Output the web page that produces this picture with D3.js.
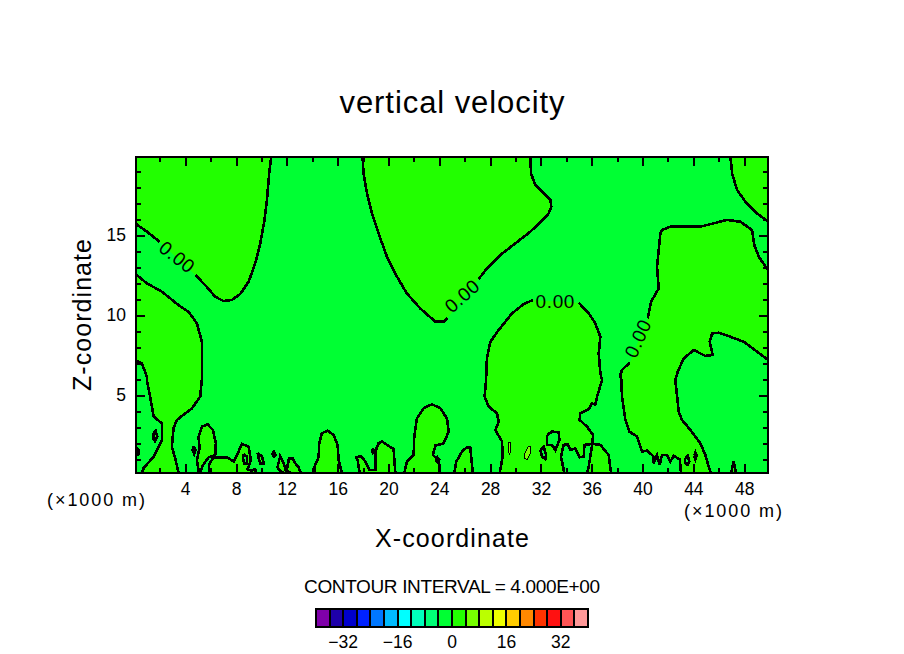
<!DOCTYPE html>
<html>
<head>
<meta charset="utf-8">
<style>
  html, body { margin: 0; padding: 0; background: #fff; }
  svg { display: block; }
  text { font-family: "Liberation Sans", sans-serif; fill: #000; }
</style>
<script src="https://cdnjs.cloudflare.com/ajax/libs/d3/7.8.5/d3.min.js"></script>
</head>
<body>
<svg id="canvas" width="904" height="654"></svg>
<script>
// domain of the cell centres, x and z in km
var xDomain = [0.125, 49.875];
var zDomain = [0.125, 19.875];

var xMajor = [4, 8, 12, 16, 20, 24, 28, 32, 36, 40, 44, 48];
var xMinor = [2, 6, 10, 14, 18, 22, 26, 30, 34, 38, 42, 46];
var zMajor = [5, 10, 15];
var zMinor = [1, 2, 3, 4, 6, 7, 8, 9, 11, 12, 13, 14, 16, 17, 18, 19];

// legend
var levelColors = ['#7f00aa', '#1e00aa', '#0000cc', '#0022ff', '#0077ff', '#00bbff', '#00ffff',
  '#00ffbb', '#00ff77', '#00ff33', '#22ff00', '#77ff00', '#bbff00', '#eeff00', '#ffcc00',
  '#ff8800', '#ff3300', '#ff1111', '#ff5555', '#ff9999'];
var levelEdges = [-40, -36, -32, -28, -24, -20, -16, -12, -8, -4, 0, 4, 8, 12, 16, 20, 24, 28, 32, 36, 40];
var levelTicks = [-32, -16, 0, 16, 32];

// zero contours, [x, z]. null is a break in the line for a label
var topLeft = [[0.125, 15.69], [0.98, 15.21], [1.98, 14.58], null, [4.79, 12.5], [5.57, 11.87], [6.36, 11.14],
  [7.02, 10.87], [7.67, 10.94], [8.33, 11.31], [8.99, 12.08], [9.51, 13.23], [9.91, 14.48], [10.22, 15.83],
  [10.43, 17.19], [10.61, 18.85], [10.77, 19.875], null, [0.125, 19.875]];
var topMiddle = [[17.96, 19.875], [18.04, 18.85], [18.31, 17.6], [18.7, 16.35], [19.22, 15.1], [19.88, 13.64],
  [20.67, 12.39], [21.45, 11.35], [22.5, 10.41], [23.69, 9.58], [24.34, 9.58], [24.66, 9.83], null,
  [27.1, 12.25], [27.75, 12.91], [28.8, 13.75], [29.99, 14.48], [31.17, 15.21], [32.09, 15.89], [32.61, 16.35],
  [32.82, 16.77], [32.74, 17.19], [32.22, 17.6], [31.56, 18.12], [31.22, 18.85], [31.17, 19.875]];
var topRight = [[46.92, 19.875], [47.05, 18.85], [47.44, 17.81], [48.1, 17.08], [49.02, 16.35], [49.875, 15.83],
  null, [49.875, 19.875]];
var leftMiddle = [[0.125, 12.54], [0.98, 11.98], [2.16, 11.46], [3.47, 10.62], [4.26, 10.2], [4.92, 9.48],
  [5.31, 8.33], [5.31, 5.94], [5.18, 4.9], [4.53, 4.17], [3.34, 3.44], [3.08, 2.92], [2.95, 1.77], [3.21, 1.04],
  [3.48, 0.125], null, [0.59, 0.125], [0.72, 0.42], [1.51, 1.15], [2.16, 2.19], [2.16, 3.23], [1.51, 3.65],
  [1.24, 4.9], [0.98, 5.94], [0.98, 6.14], [0.59, 6.98], [0.125, 7.14]];
var centre = [[28.75, 0.125], [28.99, 1.15], [28.94, 2.09], [28.41, 2.81], [28.67, 3.33], [28.54, 3.86], [27.89, 4.27],
  [27.57, 4.9], [27.68, 5.94], [27.75, 7.29], [28.02, 8.33], [28.67, 9.06], [29.72, 10.1], [30.64, 10.68],
  [31.38, 10.94], null, [34.97, 10.77], [35.76, 10.1], [36.28, 9.48], [36.68, 8.64], [36.55, 7.6], [36.68, 6.35],
  [36.81, 5.94], [36.42, 4.9], [36.28, 4.38], [36.02, 4.48], [35.76, 4.11], [35.1, 3.86], [35.05, 3.44],
  [35.63, 3.02], [36.1, 2.5], [36.05, 1.95], [35.42, 1.88], [35.37, 1.15], [35.05, 1.11], [34.71, 1.67],
  [34.32, 1.56], [34.1, 1.94], [33.79, 1.88], [33.58, 1.15], [33.84, 0.125]];
var centreFoot = [[36.05, 1.95], [36.68, 1.88], [37.33, 1.25], [37.52, 0.125], null, [35.63, 0.125], [35.76, 0.52]];
var right = [[43.03, 0.125], [42.93, 0.98], [42.45, 1.19], [42.19, 0.84], [41.93, 1.25], [41.53, 1.25], [41.35, 0.63],
  [41.14, 1.25], [40.88, 0.73], [40.88, 1.15], [40.35, 1.52], [39.96, 1.46], [39.57, 2.4], [38.96, 2.71],
  [38.65, 3.44], [38.38, 4.9], [38.33, 5.94], [38.25, 6.25], [38.38, 6.56], [38.99, 7.02], null, [40.41, 9.79],
  [40.67, 10.83], [41.27, 11.66], [41.14, 13.02], [41.4, 15.1], [41.53, 15.31], [42.19, 15.52], [44.55, 15.52],
  [46.65, 15.94], [47.7, 15.83], [48.62, 15.31], [48.8, 14.37], [49.15, 13.64], [49.875, 12.81], null,
  [49.875, 7.19], [49.02, 7.71], [47.96, 8.33], [46.92, 8.64], [46.0, 8.89], [45.47, 8.85], [45.29, 8.33],
  [45.52, 7.5], [44.95, 7.44], [44.03, 7.81], [43.24, 7.29], [42.77, 6.46], [42.58, 5.94], [42.85, 3.96],
  [43.11, 3.44], [43.77, 2.81], [44.55, 1.98], [44.95, 1.25], [45.21, 0.52], [45.39, 0.125]];

// blobs on the ground
var blobE = [[5.08, 0.125], [4.92, 0.94], [5.13, 1.67], [5.05, 2.4], [5.31, 3.02], [5.76, 3.17], [6.18, 2.81],
  [6.41, 1.98], [6.36, 1.23], [5.84, 1.11], [5.36, 0.57], [5.18, 0.125]];
var blobF = [[5.92, 0.125], [5.86, 0.63], [6.23, 1.11], [7.28, 1.11], [7.81, 0.84], [8.2, 1.46], [8.46, 1.94],
  [8.99, 1.77], [9.17, 0.94], [8.91, 0.36], [9.17, 0.27], [9.51, 0.36], [9.59, 0.125]];
var blobG = [[11.24, 0.42], [11.48, 1.19], [11.69, 0.84], [11.87, 0.42], [11.98, 0.125], [11.74, 0.125], [11.43, 0.31]];
var blobH = [[12.08, 0.63], [12.16, 1.04], [12.48, 1.04], [12.66, 0.73], [12.92, 0.48], [13.11, 0.125], [12.28, 0.125], [12.0, 0.3]];
var blobI = [[14.24, 0.125], [14.18, 0.52], [14.5, 1.11], [14.55, 1.98], [14.76, 2.61], [15.21, 2.77], [15.68, 2.5],
  [16.0, 1.88], [16.07, 0.94], [16.34, 0.125]];
var blobJ = [[17.73, 0.125], [17.57, 0.94], [17.47, 1.11], [17.83, 1.19], [18.17, 0.84], [18.51, 0.31], [18.96, 0.31],
  [18.96, 1.46], [19.22, 1.98], [19.49, 2.09], [19.88, 1.88], [20.4, 1.63], [20.54, 0.125]];
var blobK = [[21.25, 0.125], [21.45, 0.84], [21.98, 1.25], [22.03, 2.4], [22.24, 3.54], [22.77, 4.17], [23.42, 4.42],
  [24.08, 4.17], [24.6, 3.54], [24.74, 2.71], [24.34, 1.98], [23.69, 1.84], [23.5, 1.25], [23.95, 0.94], [24.03, 0.125]];
var blobL = [[25.18, 0.125], [25.34, 0.84], [25.79, 1.46], [26.13, 1.71], [26.44, 1.71], [26.57, 0.67], [26.63, 0.125]];
var blobO = [[46.97, 0.125], [47.18, 0.84], [47.36, 0.125]];

// small closed loops, positive inside
var spots = [
  [[1.5, 2.6], [1.68, 2.75], [1.8, 2.4], [1.62, 2.1], [1.48, 2.3]],
  [[0.125, 1.7], [0.3, 1.6], [0.32, 1.3], [0.125, 1.2]],
  [[4.66, 1.81], [4.81, 1.56], [4.71, 1.31], [4.58, 1.56]],
  [[9.7, 1.36], [10.04, 1.19], [10.17, 0.73], [9.91, 0.73], [9.77, 1.04]],
  [[10.85, 1.31], [10.98, 1.46], [11.11, 1.27], [10.98, 1.15]],
  [[18.68, 1.52], [18.78, 1.62], [18.9, 1.5], [18.78, 1.38]],
  [[23.7, 0.98], [23.85, 1.1], [24.0, 0.95], [23.85, 0.82]],
  [[44.06, 1.21], [44.16, 1.42], [44.27, 1.21], [44.16, 0.98]]
];
// small closed loops, negative inside
var holes = [
  [[8.6, 1.31], [8.86, 1.15], [8.86, 0.73], [8.65, 0.73], [8.54, 1.04]],
  [[31.95, 1.57], [32.22, 1.77], [32.4, 1.25], [32.35, 1.0], [32.09, 1.15]],
  [[32.48, 2.5], [32.87, 2.71], [33.4, 2.67], [33.45, 2.19], [33.14, 1.56], [32.87, 1.88], [32.48, 1.88]],
  [[43.32, 0.98], [43.56, 1.19], [43.69, 0.84], [43.56, 0.63], [43.37, 0.73]]
];
// thin contour of the next level up
var thinLoops = [
  [[29.45, 2.05], [29.6, 2.0], [29.6, 1.5], [29.52, 1.25], [29.42, 1.6]],
  [[30.7, 1.05], [30.9, 0.95], [31.2, 1.4], [31.2, 1.8], [31.0, 1.8], [30.75, 1.4]]
];

var labelX = [3.37, 25.79, 33.13, 39.62];
var labelZ = [13.63, 11.2, 10.87, 8.54];
var labelAngle = [38, -42, 0, -66];

var svg = d3.select('#canvas');

var x = d3.scaleLinear().domain(xDomain).range([136, 768]);
var z = d3.scaleLinear().domain(zDomain).range([473, 157]);
var legendX = d3.scaleLinear().domain([-40, 40]).range([316, 588]);

var line = d3.line()
  .defined(function (d) { return d !== null; })
  .x(function (d) { return x(d[0]); })
  .y(function (d) { return z(d[1]); });

svg.append('clipPath').attr('id', 'plotClip').append('rect')
  .attr('x', x.range()[0]).attr('y', z.range()[1])
  .attr('width', x.range()[1] - x.range()[0])
  .attr('height', z.range()[0] - z.range()[1]);

var plot = svg.append('g').attr('clip-path', 'url(#plotClip)');

plot.append('rect')
  .attr('x', x.range()[0]).attr('y', z.range()[1])
  .attr('width', x.range()[1] - x.range()[0])
  .attr('height', z.range()[0] - z.range()[1])
  .attr('fill', levelColors[9]);

var positive = [topLeft, topMiddle, topRight, leftMiddle, centre, centreFoot, right, blobE, blobF, blobG, blobH,
  blobI, blobJ, blobK, blobL, blobO].concat(spots);

var _fill = function (shapes, color) {
  plot.selectAll(null).data(shapes).enter().append('path')
    .attr('d', function (d) { return line(d.filter(function (p) { return p !== null; })) + 'Z'; })
    .attr('fill', color);
};
_fill(positive, levelColors[10]);
_fill(holes, levelColors[9]);
_fill(thinLoops, levelColors[11]);

// closed loops repeat the first point
var _stroke = function (shapes, width) {
  plot.selectAll(null).data(shapes).enter().append('path')
    .attr('d', function (d) { return line(d); })
    .attr('fill', 'none')
    .attr('stroke', '#000')
    .attr('stroke-width', width)
    .attr('shape-rendering', 'crispEdges');
};
var _closed = function (d) { return d.concat([d[0]]); };
_stroke(positive.map(function (d) { return d === topLeft || d === topMiddle || d === topRight ? d : _closed(d); }), 2.6);
_stroke(holes.map(_closed), 2.6);
_stroke(thinLoops.map(_closed), 1);

// contour labels
labelX.forEach(function (v, i) {
  svg.append('text')
    .attr('transform', 'translate(' + x(v) + ',' + z(labelZ[i]) + ') rotate(' + labelAngle[i] + ')')
    .attr('text-anchor', 'middle').attr('dy', '0.36em')
    .attr('font-size', 19).attr('letter-spacing', 0.6)
    .text('0.00');
});

// axes and frame
var _axis = function (axis, tx, ty, size, values, showText) {
  var g = svg.append('g')
    .attr('transform', 'translate(' + tx + ',' + ty + ')')
    .call(axis.tickValues(values).tickSize(-size).tickSizeOuter(0).tickPadding(10)
      .tickFormat(showText ? d3.format('d') : ''));
  g.select('.domain').remove();
  g.selectAll('line').attr('stroke', '#000').attr('stroke-width', 2).attr('shape-rendering', 'crispEdges');
  g.selectAll('text').attr('font-family', '"Liberation Sans", sans-serif').attr('font-size', 17.5).attr('fill', '#000');
};
[[xMajor, 9, true], [xMinor, 5, false]].forEach(function (t) {
  _axis(d3.axisBottom(x), 0, z.range()[0], t[1], t[0], t[2]);
  _axis(d3.axisTop(x), 0, z.range()[1], t[1], t[0], false);
});
[[zMajor, 9, true], [zMinor, 5, false]].forEach(function (t) {
  _axis(d3.axisLeft(z), x.range()[0], 0, t[1], t[0], t[2]);
  _axis(d3.axisRight(z), x.range()[1], 0, t[1], t[0], false);
});

svg.append('rect')
  .attr('x', x.range()[0]).attr('y', z.range()[1])
  .attr('width', x.range()[1] - x.range()[0])
  .attr('height', z.range()[0] - z.range()[1])
  .attr('fill', 'none').attr('stroke', '#000').attr('stroke-width', 2);

// titles, textLength to get the wide spacing of the original
var _label = function (str, tx, ty, size, len, rotate) {
  svg.append('text')
    .attr('transform', 'translate(' + tx + ',' + ty + ')' + (rotate ? ' rotate(' + rotate + ')' : ''))
    .attr('text-anchor', 'middle')
    .attr('font-size', size)
    .attr('textLength', len)
    .text(str);
};
_label('vertical velocity', 452, 113, 31, 225);
_label('X-coordinate', 452, 547, 25, 154);
_label('Z-coordinate', 91, 315, 25, 152, -90);
_label('(\u00d71000 m)', 96, 506, 18, 98);
_label('(\u00d71000 m)', 733, 517, 18, 98);
_label('CONTOUR INTERVAL = 4.000E+00', 452, 593, 19, 296);

// legend
svg.selectAll('.cell').data(levelColors).enter().append('rect')
  .attr('class', 'cell')
  .attr('x', function (d, i) { return legendX(levelEdges[i]); })
  .attr('y', 609)
  .attr('width', function (d, i) { return legendX(levelEdges[i + 1]) - legendX(levelEdges[i]); })
  .attr('height', 18)
  .attr('fill', function (d) { return d; })
  .attr('stroke', '#000')
  .attr('stroke-width', 2)
  .attr('shape-rendering', 'crispEdges');

svg.selectAll('.levelTick').data(levelTicks).enter().append('text')
  .attr('class', 'levelTick')
  .attr('x', function (d) { return legendX(d); })
  .attr('y', 648)
  .attr('text-anchor', 'middle')
  .attr('font-size', 17.5)
  .text(d3.format('d'));
</script>
</body>
</html>
